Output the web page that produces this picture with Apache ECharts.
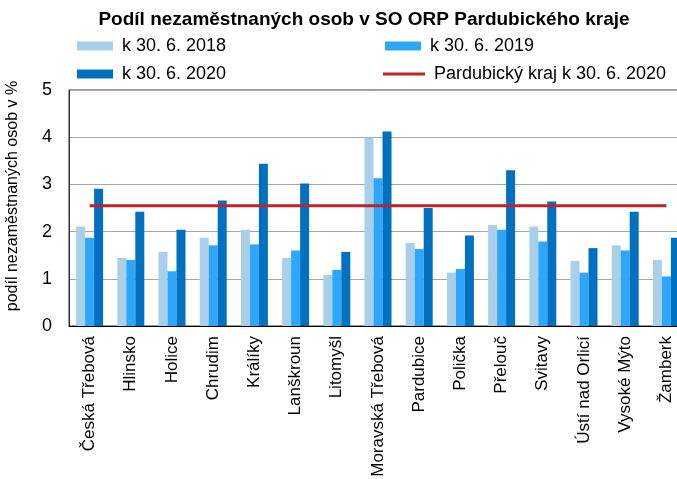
<!DOCTYPE html>
<html>
<head>
<meta charset="utf-8">
<script src="https://cdn.jsdelivr.net/npm/echarts@6/dist/echarts.min.js"></script>
<style>
html,body{margin:0;padding:0;background:#fff;}
#chart{width:677px;height:479px;}
</style>
</head>
<body>
<div id="chart"></div>
<script>
var categories = ["Česká Třebová","Hlinsko","Holice","Chrudim","Králíky","Lanškroun","Litomyšl","Moravská Třebová","Pardubice","Polička","Přelouč","Svitavy","Ústí nad Orlicí","Vysoké Mýto","Žamberk"];
var v2018 = [2.11,1.44,1.57,1.87,2.04,1.44,1.08,3.99,1.76,1.13,2.14,2.11,1.38,1.71,1.40];
var v2019 = [1.87,1.40,1.16,1.71,1.73,1.60,1.19,3.13,1.63,1.21,2.04,1.79,1.13,1.60,1.05];
var v2020 = [2.91,2.42,2.04,2.66,3.44,3.02,1.57,4.12,2.50,1.92,3.30,2.64,1.65,2.42,1.87];
var krajValue = 2.55;
var kraj = categories.map(function(){ return krajValue; });
var yTicks = [0,1,2,3,4,5];
var seriesNames = ["k 30. 6. 2018","k 30. 6. 2019","k 30. 6. 2020","Pardubický kraj k 30. 6. 2020"];

var FONT = "'Liberation Sans', Arial, sans-serif";
var chart = echarts.init(document.getElementById('chart'), null, {renderer:'canvas'});
var legendText = {fontFamily:FONT, fontSize:18, color:'#000', padding:[0,0,0,4]};
function lg(name, left, top, w, h){
  return {data:[name], left:left, top:top, itemWidth:w, itemHeight:h, itemGap:0,
    icon:'rect', textStyle:legendText, padding:0, selectedMode:false};
}
chart.setOption({
  animation:false,
  backgroundColor:'#fff',
  title:{text:'Podíl nezaměstnaných osob v SO ORP Pardubického kraje', top:10,
    textStyle:{fontFamily:FONT, fontSize:19, fontWeight:'bold', color:'#000'}, padding:0, left:364, textAlign:'center'},
  legend:[lg(seriesNames[0],77,37,36,9), lg(seriesNames[1],385,37,36,9), lg(seriesNames[2],77,65,36,9), lg(seriesNames[3],383,65,42,3)],
  grid:{left:69, top:90, width:618, height:236, show:true, borderColor:'#333', borderWidth:1, backgroundColor:'transparent', outerBoundsMode:'none', containLabel:false},
  xAxis:{type:'category', data:categories, boundaryGap:true,
    axisLine:{lineStyle:{color:'#000', width:1}}, axisTick:{show:false},
    axisLabel:{rotate:90, interval:0, fontFamily:FONT, fontSize:17, color:'#000', margin:10}},
  yAxis:{type:'value', min:yTicks[0], max:yTicks[yTicks.length-1], interval:1,
    name:'podíl nezaměstnaných osob v %', nameLocation:'middle', nameGap:48,
    nameTextStyle:{fontFamily:FONT, fontSize:16, color:'#000', padding:[0,0,0,24]},
    axisLine:{show:true, lineStyle:{color:'#333'}}, axisTick:{show:false},
    axisLabel:{fontFamily:FONT, fontSize:18, color:'#000', margin:17},
    splitLine:{lineStyle:{color:'#a6a6a6', width:1}}},
  series:[
    {name:seriesNames[0], type:'bar', data:v2018, barWidth:9, barGap:'0%', itemStyle:{color:'#a9cfe9'}},
    {name:seriesNames[1], type:'bar', data:v2019, barWidth:9, barGap:'0%', itemStyle:{color:'#2ea7fb'}},
    {name:seriesNames[2], type:'bar', data:v2020, barWidth:9, barGap:'0%', itemStyle:{color:'#0070c0'}},
    {name:seriesNames[3], type:'line', data:kraj, symbol:'none', lineStyle:{color:'#c0222c', width:3}, itemStyle:{color:'#c0222c'}, z:5}
  ]
});
</script>
</body>
</html>
